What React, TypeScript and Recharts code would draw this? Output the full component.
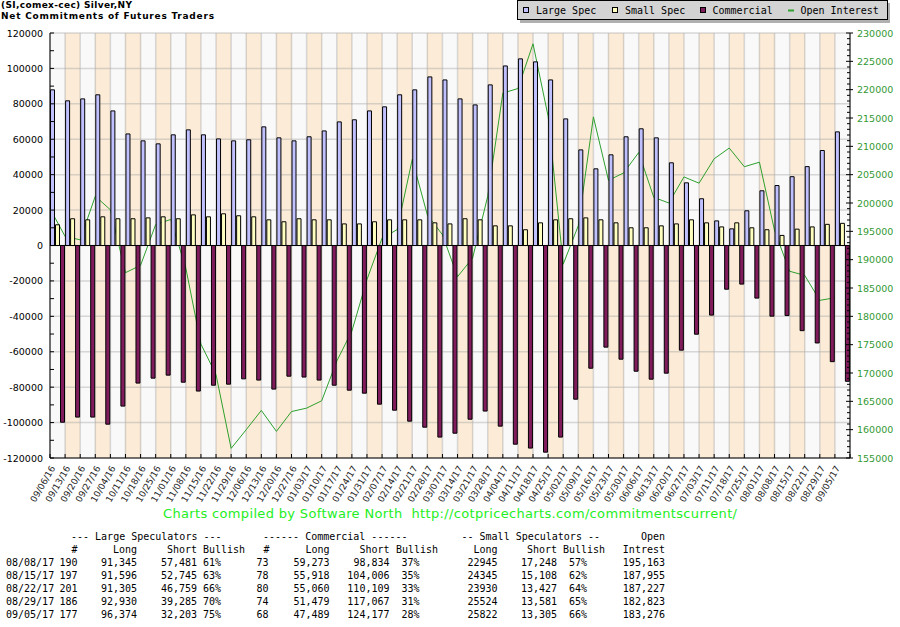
import React from 'react';
import {
  Bar,
  CartesianGrid,
  ComposedChart,
  Line,
  ReferenceLine,
  XAxis,
  YAxis,
} from 'recharts';

const dates = [
  '09/06/16', '09/13/16', '09/20/16', '09/27/16', '10/04/16', '10/11/16', '10/18/16', '10/25/16',
  '11/01/16', '11/08/16', '11/15/16', '11/22/16', '11/29/16', '12/06/16', '12/13/16', '12/20/16',
  '12/27/16', '01/03/17', '01/10/17', '01/17/17', '01/24/17', '01/31/17', '02/07/17', '02/14/17',
  '02/21/17', '02/28/17', '03/07/17', '03/14/17', '03/21/17', '03/28/17', '04/04/17', '04/11/17',
  '04/18/17', '04/25/17', '05/02/17', '05/09/17', '05/16/17', '05/23/17', '05/30/17', '06/06/17',
  '06/13/17', '06/20/17', '06/27/17', '07/03/17', '07/11/17', '07/18/17', '07/25/17', '08/01/17',
  '08/08/17', '08/15/17', '08/22/17', '08/29/17', '09/05/17',
];

const largeSpec = [
  87900, 81700, 82800, 85100, 76000, 63000, 59100, 57400, 62500, 65300, 62500, 60200, 59100,
  59700, 67000, 60800, 59100, 61400, 64700, 69800, 71000, 76000, 78300, 85100, 87900, 95200,
  93500, 82800, 79400, 90700, 101400, 105400, 103700, 93500, 71500, 54000, 43300, 51200, 61400,
  65900, 60800, 46700, 35400, 26400, 13900, 9400, 19600, 30900, 33864, 38851, 44546, 53645, 64171,
];

const smallSpec = [
  11700, 15100, 14500, 16200, 15100, 15100, 15600, 16200, 15100, 17300, 16200, 17900, 16800,
  16200, 14500, 13400, 15100, 14500, 14500, 12200, 12200, 13400, 14500, 14500, 14500, 12800,
  12200, 15100, 14500, 11100, 11100, 8900, 12800, 14500, 15100, 15600, 14500, 12800, 10000,
  10000, 11100, 12200, 14500, 12800, 10500, 12800, 10000, 8900, 5697, 9237, 10503, 11943, 12517,
];

const commercial = [
  -99800, -96900, -96900, -100900, -90700, -77700, -74900, -73200, -77200, -82200, -78900, -78300,
  -75300, -76000, -81100, -73800, -74300, -76000, -78900, -81700, -83400, -89600, -93000, -99200,
  -102600, -108200, -106000, -98100, -93500, -102000, -112200, -114400, -116700, -108200, -86800,
  -69300, -57400, -64200, -71000, -75500, -72100, -59100, -50100, -39300, -24700, -21800, -29700,
  -39900, -39561, -48088, -55049, -65588, -76688,
];

const openInterest = [
  199000, 194100, 193500, 201200, 198800, 187700, 189000, 196200, 197100, 188500, 175100, 169700,
  156700, 160000, 163400, 159700, 163200, 163800, 165100, 172100, 177400, 186500, 193800, 195300,
  207700, 197900, 194400, 187000, 190300, 201200, 219400, 220200, 228100, 215300, 189200, 196000,
  215200, 204000, 205300, 208900, 201000, 200000, 204600, 203500, 207800, 209700, 206400, 207200,
  195163, 187955, 187227, 182823, 183276,
];

const leftMajorTicks = [
  -120000, -100000, -80000, -60000, -40000, -20000, 0, 20000, 40000, 60000, 80000, 100000, 120000,
];
const leftTicks = [
  -120000, -110000, -100000, -90000, -80000, -70000, -60000, -50000, -40000, -30000, -20000, -10000,
  0, 10000, 20000, 30000, 40000, 50000, 60000, 70000, 80000, 90000, 100000, 110000, 120000,
];
const rightMajorTicks = [
  155000, 160000, 165000, 170000, 175000, 180000, 185000, 190000, 195000, 200000, 205000, 210000,
  215000, 220000, 225000, 230000,
];
// minor ticks every 1000 on the open interest axis
const rightTicks = Array.from({ length: 76 }, (_, k) => 155000 + k * 1000);

// band edges (integers) and band centres (halves) on the index axis
const bandEdges = Array.from({ length: dates.length + 1 }, (_, k) => k);
const indexTicks = Array.from({ length: dates.length * 2 + 1 }, (_, k) => k / 2);

// table under the chart
const tableDates = ['08/08/17', '08/15/17', '08/22/17', '08/29/17', '09/05/17'];
const lsTraders = [190, 197, 201, 186, 177];
const lsLong = [91345, 91596, 91305, 92930, 96374];
const lsShort = [57481, 52745, 46759, 39285, 32203];
const lsBullish = [61, 63, 66, 70, 75];
const comTraders = [73, 78, 80, 74, 68];
const comLong = [59273, 55918, 55060, 51479, 47489];
const comShort = [98834, 104006, 110109, 117067, 124177];
const comBullish = [37, 35, 33, 31, 28];
const ssLong = [22945, 24345, 23930, 25524, 25822];
const ssShort = [17248, 15108, 13427, 13581, 13305];
const ssBullish = [57, 62, 64, 65, 66];
const tableOI = [195163, 187955, 187227, 182823, 183276];

const chartData = dates.map((date, i) => ({
  date,
  idx: i,
  large: largeSpec[i],
  small: smallSpec[i],
  commercial: commercial[i],
  oi: openInterest[i],
}));

const GREEN_TEXT = '#339933';
const LINE_GREEN = '#2ea02e';
const MONO = '"DejaVu Sans Mono", monospace';
const SANS = '"DejaVu Sans", Verdana, sans-serif';

const fmt = (n: number) => n.toLocaleString('en-US');

function LeftTick(props: any) {
  const { x, y, payload } = props;
  const v = payload.value as number;
  return (
    <g>
      <line x1={x} x2={x + 4} y1={y} y2={y} stroke="#000" />
      {leftMajorTicks.includes(v) && (
        <text x={x - 7} y={y + 3.5} textAnchor="end" fontSize={9.5} fontFamily={SANS} fill="#000">
          {String(v)}
        </text>
      )}
    </g>
  );
}

function RightTick(props: any) {
  const { x, y, payload } = props;
  const v = payload.value as number;
  const major = rightMajorTicks.includes(v);
  return (
    <g>
      <line x1={major ? x - 4 : x - 3} x2={major ? x + 3 : x} y1={y} y2={y} stroke="#000" />
      {major && (
        <text x={x + 7} y={y + 3.5} textAnchor="start" fontSize={9.5} fontFamily={SANS} fill={GREEN_TEXT}>
          {String(v)}
        </text>
      )}
    </g>
  );
}

function DateTick(props: any) {
  const { x, y, payload } = props;
  const v = payload.value as number;
  if (Number.isInteger(v)) {
    return <line x1={x} x2={x} y1={y - 4} y2={y} stroke="#000" />;
  }
  const label = dates[Math.floor(v)];
  return (
    <text
      x={0}
      y={0}
      transform={`translate(${x - 2},${y + 10}) rotate(-60)`}
      textAnchor="end"
      fontSize={9}
      fontFamily={SANS}
      fill="#222"
    >
      {label}
    </text>
  );
}

function Legend() {
  return (
    <g fontFamily={MONO} fontSize={10} fill="#000">
      <rect x={520} y={3} width={370} height={20} fill="#b0b0b0" />
      <rect x={517.5} y={0.5} width={370} height={19} fill="#d3d3d3" stroke="#000" />
      <rect x={523.5} y={7.5} width={5} height={5} fill="#c0c0ff" stroke="#000" />
      <text x={536} y={13.5}>Large Spec</text>
      <rect x={612.5} y={7.5} width={5} height={5} fill="#ffffc0" stroke="#000" />
      <text x={625} y={13.5}>Small Spec</text>
      <rect x={700.5} y={7.5} width={5} height={5} fill="#801c5c" stroke="#000" />
      <text x={712.5} y={13.5}>Commercial</text>
      <line x1={788} x2={794} y1={10.5} y2={10.5} stroke={LINE_GREEN} strokeWidth={2} />
      <text x={800.5} y={13.5}>Open Interest</text>
    </g>
  );
}

function StatsTable() {
  const rowY = [539.5, 553, 566, 579, 592, 605, 618];
  return (
    <g fontFamily={MONO} fontSize={10} fill="#000">
      <text x={71} y={rowY[0]}>--- Large Speculators ---</text>
      <text x={263} y={rowY[0]}>------ Commercial ------</text>
      <text x={461.5} y={rowY[0]}>-- Small Speculators --</text>
      <text x={665} y={rowY[0]} textAnchor="end">Open</text>

      <text x={77.5} y={rowY[1]} textAnchor="end">#</text>
      <text x={137} y={rowY[1]} textAnchor="end">Long</text>
      <text x={197} y={rowY[1]} textAnchor="end">Short</text>
      <text x={203} y={rowY[1]}>Bullish</text>
      <text x={269.5} y={rowY[1]} textAnchor="end">#</text>
      <text x={329.5} y={rowY[1]} textAnchor="end">Long</text>
      <text x={389.5} y={rowY[1]} textAnchor="end">Short</text>
      <text x={396} y={rowY[1]}>Bullish</text>
      <text x={497.5} y={rowY[1]} textAnchor="end">Long</text>
      <text x={557} y={rowY[1]} textAnchor="end">Short</text>
      <text x={563} y={rowY[1]}>Bullish</text>
      <text x={665} y={rowY[1]} textAnchor="end">Intrest</text>

      {tableDates.map((d, i) => {
        const y = rowY[i + 2];
        return (
          <g key={d}>
            <text x={6} y={y}>{d}</text>
            <text x={77.5} y={y} textAnchor="end">{lsTraders[i]}</text>
            <text x={137} y={y} textAnchor="end">{fmt(lsLong[i])}</text>
            <text x={197} y={y} textAnchor="end">{fmt(lsShort[i])}</text>
            <text x={203} y={y}>{`${lsBullish[i]}%`}</text>
            <text x={268.5} y={y} textAnchor="end">{comTraders[i]}</text>
            <text x={329.5} y={y} textAnchor="end">{fmt(comLong[i])}</text>
            <text x={389.5} y={y} textAnchor="end">{fmt(comShort[i])}</text>
            <text x={401.5} y={y}>{`${comBullish[i]}%`}</text>
            <text x={497.5} y={y} textAnchor="end">{String(ssLong[i])}</text>
            <text x={557} y={y} textAnchor="end">{fmt(ssShort[i])}</text>
            <text x={569} y={y}>{`${ssBullish[i]}%`}</text>
            <text x={665} y={y} textAnchor="end">{fmt(tableOI[i])}</text>
          </g>
        );
      })}
    </g>
  );
}

export default function App() {
  return (
    <div style={{ position: 'absolute', left: 0, top: 0, width: 900, height: 627, background: '#fff' }}>
      <ComposedChart
        width={900}
        height={627}
        data={chartData}
        margin={{ top: 33, right: 0, bottom: 109, left: 0 }}
        barCategoryGap={0.5}
        barGap={1}
      >
        <XAxis
          xAxisId="idx"
          dataKey="idx"
          type="number"
          domain={[0, dates.length]}
          ticks={indexTicks}
          interval={0}
          height={60}
          tickSize={0}
          tickMargin={0}
          tickLine={false}
          axisLine={{ stroke: '#000' }}
          tick={<DateTick />}
        />
        <XAxis xAxisId="cat" dataKey="date" type="category" hide height={0} />
        <YAxis
          yAxisId="left"
          type="number"
          domain={[-120000, 120000]}
          ticks={leftTicks}
          interval={0}
          width={50}
          tickSize={0}
          tickMargin={0}
          tickLine={false}
          axisLine={{ stroke: '#000' }}
          tick={<LeftTick />}
        />
        <YAxis
          yAxisId="right"
          orientation="right"
          type="number"
          domain={[155000, 230000]}
          ticks={rightTicks}
          interval={0}
          width={50}
          tickSize={0}
          tickMargin={0}
          tickLine={false}
          axisLine={{ stroke: '#000' }}
          tick={<RightTick />}
        />
        <CartesianGrid
          xAxisId="idx"
          yAxisId="left"
          horizontalValues={leftMajorTicks}
          verticalValues={bandEdges}
          verticalFill={['#f9f9f9', '#fcebd6']}
          stroke="rgba(170,170,170,0.45)"
          strokeWidth={1.5}
        />
        <Line
          xAxisId="idx"
          yAxisId="right"
          dataKey="oi"
          type="linear"
          stroke={LINE_GREEN}
          strokeWidth={1}
          dot={false}
          activeDot={false}
          isAnimationActive={false}
          zIndex={250}
        />
        <Bar xAxisId="cat" yAxisId="left" dataKey="large" fill="#c0c0ff" stroke="#000" strokeWidth={1} isAnimationActive={false} />
        <Bar xAxisId="cat" yAxisId="left" dataKey="small" fill="#ffffc0" stroke="#000" strokeWidth={1} isAnimationActive={false} />
        <Bar xAxisId="cat" yAxisId="left" dataKey="commercial" fill="#801c5c" stroke="#000" strokeWidth={1} isAnimationActive={false} />
        <ReferenceLine xAxisId="idx" yAxisId="left" y={0} stroke="#000" />
      </ComposedChart>
      <svg
        width={900}
        height={627}
        style={{ position: 'absolute', left: 0, top: 0, pointerEvents: 'none' }}
      >
        <text x={1} y={7.5} fontFamily={SANS} fontWeight="bold" fontSize={9} textLength={131} lengthAdjust="spacing">
          (SI,comex-cec) Silver,NY
        </text>
        <text x={1} y={18.5} fontFamily={SANS} fontWeight="bold" fontSize={9} textLength={213} lengthAdjust="spacing">
          Net Commitments of Futures Traders
        </text>
        <Legend />
        <text
          x={163}
          y={518}
          fontFamily={SANS}
          fontSize={13}
          fill="#22ee22"
          textLength={574}
          lengthAdjust="spacing"
          style={{ whiteSpace: 'pre' }}
        >
          {'Charts compiled by Software North  http://cotpricecharts.com/commitmentscurrent/'}
        </text>
        <StatsTable />
      </svg>
    </div>
  );
}
